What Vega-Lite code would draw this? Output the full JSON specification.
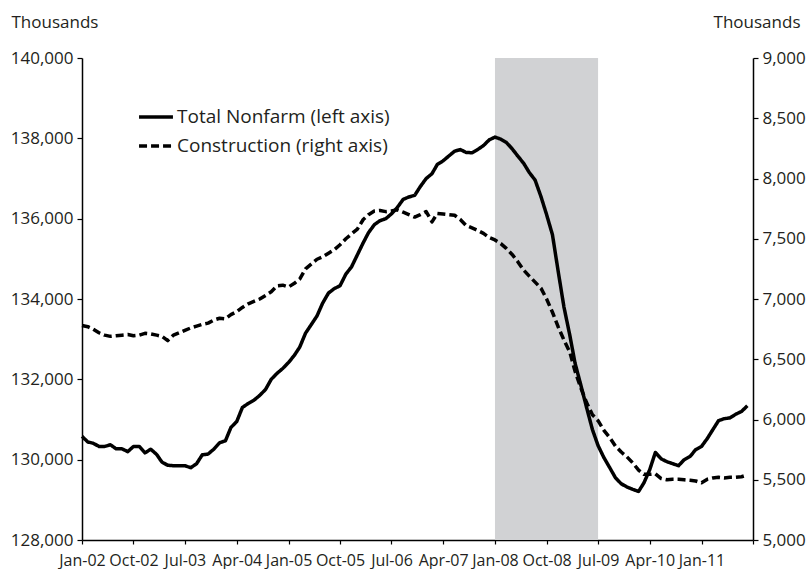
{
  "$schema": "https://vega.github.io/schema/vega-lite/v6.json",
  "width": 671,
  "height": 482,
  "autosize": "none",
  "padding": {"left": 82, "top": 58, "right": 56, "bottom": 29},
  "background": "#ffffff",
  "config": {
    "view": {"stroke": null},
    "font": "Open Sans",
    "axis": {
      "domainColor": "#000000",
      "domainWidth": 1.5,
      "tickColor": "#000000",
      "tickWidth": 1.2,
      "labelColor": "#231f20",
      "labelFont": "Open Sans",
      "titleFont": "Open Sans",
      "titleColor": "#231f20",
      "titleFontWeight": "normal",
      "grid": false
    }
  },
  "datasets": {
    "emp": [
      {"date": "2002-01-01", "nf": 130580, "c": 6780},
      {"date": "2002-02-01", "nf": 130440, "c": 6770},
      {"date": "2002-03-01", "nf": 130410, "c": 6750},
      {"date": "2002-04-01", "nf": 130330, "c": 6720},
      {"date": "2002-05-01", "nf": 130330, "c": 6700},
      {"date": "2002-06-01", "nf": 130370, "c": 6690},
      {"date": "2002-07-01", "nf": 130270, "c": 6695},
      {"date": "2002-08-01", "nf": 130270, "c": 6700},
      {"date": "2002-09-01", "nf": 130200, "c": 6705},
      {"date": "2002-10-01", "nf": 130330, "c": 6695},
      {"date": "2002-11-01", "nf": 130330, "c": 6700},
      {"date": "2002-12-01", "nf": 130170, "c": 6715},
      {"date": "2003-01-01", "nf": 130260, "c": 6710},
      {"date": "2003-02-01", "nf": 130130, "c": 6700},
      {"date": "2003-03-01", "nf": 129940, "c": 6690},
      {"date": "2003-04-01", "nf": 129860, "c": 6655},
      {"date": "2003-05-01", "nf": 129850, "c": 6700},
      {"date": "2003-06-01", "nf": 129850, "c": 6720},
      {"date": "2003-07-01", "nf": 129850, "c": 6740},
      {"date": "2003-08-01", "nf": 129800, "c": 6760},
      {"date": "2003-09-01", "nf": 129900, "c": 6775},
      {"date": "2003-10-01", "nf": 130120, "c": 6790},
      {"date": "2003-11-01", "nf": 130140, "c": 6800},
      {"date": "2003-12-01", "nf": 130260, "c": 6825},
      {"date": "2004-01-01", "nf": 130420, "c": 6840},
      {"date": "2004-02-01", "nf": 130470, "c": 6835},
      {"date": "2004-03-01", "nf": 130800, "c": 6870},
      {"date": "2004-04-01", "nf": 130950, "c": 6895},
      {"date": "2004-05-01", "nf": 131300, "c": 6930},
      {"date": "2004-06-01", "nf": 131400, "c": 6960},
      {"date": "2004-07-01", "nf": 131480, "c": 6980},
      {"date": "2004-08-01", "nf": 131600, "c": 7000},
      {"date": "2004-09-01", "nf": 131750, "c": 7030},
      {"date": "2004-10-01", "nf": 132000, "c": 7060},
      {"date": "2004-11-01", "nf": 132150, "c": 7110},
      {"date": "2004-12-01", "nf": 132270, "c": 7115},
      {"date": "2005-01-01", "nf": 132420, "c": 7100},
      {"date": "2005-02-01", "nf": 132600, "c": 7130},
      {"date": "2005-03-01", "nf": 132800, "c": 7165},
      {"date": "2005-04-01", "nf": 133150, "c": 7250},
      {"date": "2005-05-01", "nf": 133360, "c": 7290},
      {"date": "2005-06-01", "nf": 133580, "c": 7330},
      {"date": "2005-07-01", "nf": 133900, "c": 7350},
      {"date": "2005-08-01", "nf": 134150, "c": 7380},
      {"date": "2005-09-01", "nf": 134260, "c": 7410},
      {"date": "2005-10-01", "nf": 134330, "c": 7450},
      {"date": "2005-11-01", "nf": 134620, "c": 7500},
      {"date": "2005-12-01", "nf": 134800, "c": 7540},
      {"date": "2006-01-01", "nf": 135100, "c": 7580},
      {"date": "2006-02-01", "nf": 135400, "c": 7660},
      {"date": "2006-03-01", "nf": 135650, "c": 7700},
      {"date": "2006-04-01", "nf": 135850, "c": 7730},
      {"date": "2006-05-01", "nf": 135950, "c": 7735},
      {"date": "2006-06-01", "nf": 136000, "c": 7725},
      {"date": "2006-07-01", "nf": 136120, "c": 7730},
      {"date": "2006-08-01", "nf": 136280, "c": 7740},
      {"date": "2006-09-01", "nf": 136480, "c": 7720},
      {"date": "2006-10-01", "nf": 136540, "c": 7700},
      {"date": "2006-11-01", "nf": 136580, "c": 7680},
      {"date": "2006-12-01", "nf": 136800, "c": 7700},
      {"date": "2007-01-01", "nf": 137000, "c": 7725},
      {"date": "2007-02-01", "nf": 137120, "c": 7640},
      {"date": "2007-03-01", "nf": 137350, "c": 7710},
      {"date": "2007-04-01", "nf": 137440, "c": 7705},
      {"date": "2007-05-01", "nf": 137560, "c": 7700},
      {"date": "2007-06-01", "nf": 137680, "c": 7695},
      {"date": "2007-07-01", "nf": 137720, "c": 7660},
      {"date": "2007-08-01", "nf": 137650, "c": 7610},
      {"date": "2007-09-01", "nf": 137640, "c": 7590},
      {"date": "2007-10-01", "nf": 137720, "c": 7570},
      {"date": "2007-11-01", "nf": 137820, "c": 7545},
      {"date": "2007-12-01", "nf": 137960, "c": 7510},
      {"date": "2008-01-01", "nf": 138030, "c": 7490},
      {"date": "2008-02-01", "nf": 137980, "c": 7460},
      {"date": "2008-03-01", "nf": 137900, "c": 7420},
      {"date": "2008-04-01", "nf": 137740, "c": 7370},
      {"date": "2008-05-01", "nf": 137560, "c": 7310},
      {"date": "2008-06-01", "nf": 137380, "c": 7240},
      {"date": "2008-07-01", "nf": 137150, "c": 7190},
      {"date": "2008-08-01", "nf": 136960, "c": 7140},
      {"date": "2008-09-01", "nf": 136550, "c": 7090},
      {"date": "2008-10-01", "nf": 136100, "c": 7000},
      {"date": "2008-11-01", "nf": 135600, "c": 6890},
      {"date": "2008-12-01", "nf": 134700, "c": 6770},
      {"date": "2009-01-01", "nf": 133800, "c": 6660},
      {"date": "2009-02-01", "nf": 133100, "c": 6560},
      {"date": "2009-03-01", "nf": 132400, "c": 6400},
      {"date": "2009-04-01", "nf": 131850, "c": 6260},
      {"date": "2009-05-01", "nf": 131300, "c": 6140},
      {"date": "2009-06-01", "nf": 130750, "c": 6040},
      {"date": "2009-07-01", "nf": 130350, "c": 5990},
      {"date": "2009-08-01", "nf": 130050, "c": 5910},
      {"date": "2009-09-01", "nf": 129800, "c": 5850},
      {"date": "2009-10-01", "nf": 129550, "c": 5780},
      {"date": "2009-11-01", "nf": 129400, "c": 5730},
      {"date": "2009-12-01", "nf": 129320, "c": 5690},
      {"date": "2010-01-01", "nf": 129260, "c": 5640},
      {"date": "2010-02-01", "nf": 129210, "c": 5580},
      {"date": "2010-03-01", "nf": 129420, "c": 5545},
      {"date": "2010-04-01", "nf": 129750, "c": 5545},
      {"date": "2010-05-01", "nf": 130180, "c": 5550},
      {"date": "2010-06-01", "nf": 130020, "c": 5510},
      {"date": "2010-07-01", "nf": 129950, "c": 5500},
      {"date": "2010-08-01", "nf": 129900, "c": 5505},
      {"date": "2010-09-01", "nf": 129850, "c": 5505},
      {"date": "2010-10-01", "nf": 130000, "c": 5500},
      {"date": "2010-11-01", "nf": 130080, "c": 5495},
      {"date": "2010-12-01", "nf": 130250, "c": 5490},
      {"date": "2011-01-01", "nf": 130330, "c": 5475},
      {"date": "2011-02-01", "nf": 130530, "c": 5505},
      {"date": "2011-03-01", "nf": 130740, "c": 5515},
      {"date": "2011-04-01", "nf": 130970, "c": 5520},
      {"date": "2011-05-01", "nf": 131020, "c": 5515},
      {"date": "2011-06-01", "nf": 131040, "c": 5520},
      {"date": "2011-07-01", "nf": 131130, "c": 5520},
      {"date": "2011-08-01", "nf": 131200, "c": 5525},
      {"date": "2011-09-01", "nf": 131340, "c": 5540}
    ],
    "recession": [
      {"start": "2008-01-01", "end": "2009-07-01"}
    ]
  },
  "layer": [
    {
      "data": {"name": "recession"},
      "mark": {"type": "rect", "color": "#d1d2d4"},
      "encoding": {
        "x": {
          "field": "start",
          "type": "temporal",
          "scale": {
            "type": "utc",
            "domain": [
              {"year": 2002, "month": 1, "date": 1, "utc": true},
              {"year": 2011, "month": 10, "date": 1, "utc": true}
            ]
          },
          "axis": {
            "title": null,
            "values": [
              {"year": 2002, "month": 1, "date": 1, "utc": true},
              {"year": 2002, "month": 10, "date": 1, "utc": true},
              {"year": 2003, "month": 7, "date": 1, "utc": true},
              {"year": 2004, "month": 4, "date": 1, "utc": true},
              {"year": 2005, "month": 1, "date": 1, "utc": true},
              {"year": 2005, "month": 10, "date": 1, "utc": true},
              {"year": 2006, "month": 7, "date": 1, "utc": true},
              {"year": 2007, "month": 4, "date": 1, "utc": true},
              {"year": 2008, "month": 1, "date": 1, "utc": true},
              {"year": 2008, "month": 10, "date": 1, "utc": true},
              {"year": 2009, "month": 7, "date": 1, "utc": true},
              {"year": 2010, "month": 4, "date": 1, "utc": true},
              {"year": 2011, "month": 1, "date": 1, "utc": true},
              {"year": 2011, "month": 10, "date": 1, "utc": true}
            ],
            "labelExpr": "utcyear(datum.value) == 2011 && utcmonth(datum.value) == 9 ? '' : utcFormat(datum.value, '%b-%y')",
            "labelFontSize": 16,
            "labelPadding": 8,
            "tickSize": 4,
            "labelOverlap": false,
            "labelFlush": false
          }
        },
        "x2": {"field": "end"}
      }
    },
    {
      "data": {"name": "emp"},
      "transform": [{"fold": ["nf"], "as": ["series", "value"]}],
      "mark": {"type": "line", "color": "#000000", "strokeWidth": 3.5, "strokeJoin": "round", "strokeCap": "butt"},
      "encoding": {
        "x": {"field": "date", "type": "temporal"},
        "y": {
          "field": "value",
          "type": "quantitative",
          "scale": {"domain": [128000, 140000], "nice": false, "zero": false},
          "axis": {
            "orient": "left",
            "values": [128000, 130000, 132000, 134000, 136000, 138000, 140000],
            "format": ",d",
            "labelFontSize": 17,
            "tickSize": 5,
            "labelPadding": 4,
            "title": "Thousands",
            "titleFontSize": 17,
            "titleAngle": 0,
            "titleAlign": "left",
            "titleBaseline": "alphabetic",
            "titleX": -71,
            "titleY": -31
          }
        },
        "strokeDash": {
          "field": "series",
          "type": "nominal",
          "scale": {"domain": ["nf", "c"], "range": [[1, 0], [8, 4]]},
          "legend": {
            "orient": "none",
            "legendX": 55,
            "legendY": 40,
            "title": null,
            "padding": 0,
            "symbolType": "stroke",
            "symbolSize": 1150,
            "symbolStrokeWidth": 3.5,
            "symbolStrokeColor": "#000000",
            "labelFont": "Open Sans",
            "labelFontSize": 19,
            "labelColor": "#231f20",
            "labelOffset": 2,
            "labelLimit": 400,
            "rowPadding": -2,
            "labelExpr": "datum.label == 'nf' ? 'Total Nonfarm (left axis)' : 'Construction (right axis)'"
          }
        }
      }
    },
    {
      "data": {"name": "emp"},
      "transform": [{"fold": ["c"], "as": ["series", "value"]}],
      "mark": {"type": "line", "color": "#000000", "strokeWidth": 3.5, "strokeJoin": "round", "strokeCap": "butt"},
      "encoding": {
        "x": {"field": "date", "type": "temporal"},
        "y": {
          "field": "value",
          "type": "quantitative",
          "scale": {"domain": [5000, 9000], "nice": false, "zero": false},
          "axis": {
            "orient": "right",
            "values": [5000, 5500, 6000, 6500, 7000, 7500, 8000, 8500, 9000],
            "format": ",d",
            "labelFontSize": 17,
            "tickSize": 5,
            "labelPadding": 4,
            "title": "Thousands",
            "titleFontSize": 17,
            "titleAngle": 0,
            "titleAlign": "right",
            "titleBaseline": "alphabetic",
            "titleX": 47,
            "titleY": -31
          }
        },
        "strokeDash": {
          "field": "series",
          "type": "nominal",
          "scale": {"domain": ["nf", "c"], "range": [[1, 0], [8, 4]]}
        }
      }
    }
  ],
  "resolve": {"scale": {"y": "independent"}, "axis": {"y": "independent"}}
}
